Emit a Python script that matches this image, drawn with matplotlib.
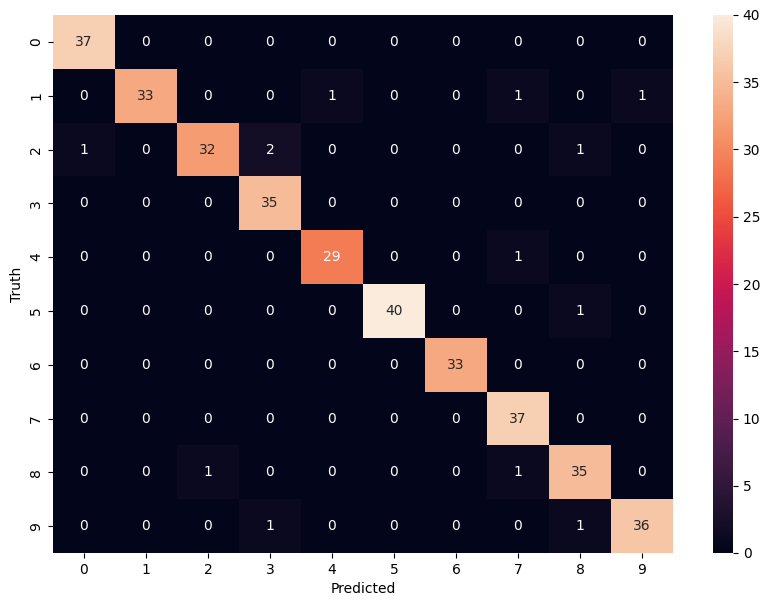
import matplotlib
matplotlib.use("Agg")
import matplotlib.pyplot as plt
import seaborn as sns
import numpy as np

labels = [str(i) for i in range(10)]
cm = [
    [37, 0, 0, 0, 0, 0, 0, 0, 0, 0],
    [0, 33, 0, 0, 1, 0, 0, 1, 0, 1],
    [1, 0, 32, 2, 0, 0, 0, 0, 1, 0],
    [0, 0, 0, 35, 0, 0, 0, 0, 0, 0],
    [0, 0, 0, 0, 29, 0, 0, 1, 0, 0],
    [0, 0, 0, 0, 0, 40, 0, 0, 1, 0],
    [0, 0, 0, 0, 0, 0, 33, 0, 0, 0],
    [0, 0, 0, 0, 0, 0, 0, 37, 0, 0],
    [0, 0, 1, 0, 0, 0, 0, 1, 35, 0],
    [0, 0, 0, 1, 0, 0, 0, 0, 1, 36],
]

W, H = 776, 607
fig = plt.figure(figsize=(W / 100, H / 100), dpi=100)
ax = fig.add_axes([53 / W, (H - 553) / H, 620 / W, 538 / H])
cax = fig.add_axes([713 / W, (H - 553) / H, 20 / W, 538 / H])
sns.heatmap(np.array(cm), annot=True, fmt="d", ax=ax, cbar_ax=cax,
            xticklabels=labels, yticklabels=labels)
ax.set_xlabel("Predicted")
ax.set_ylabel("Truth")
fig.savefig("out.png", dpi=100)
